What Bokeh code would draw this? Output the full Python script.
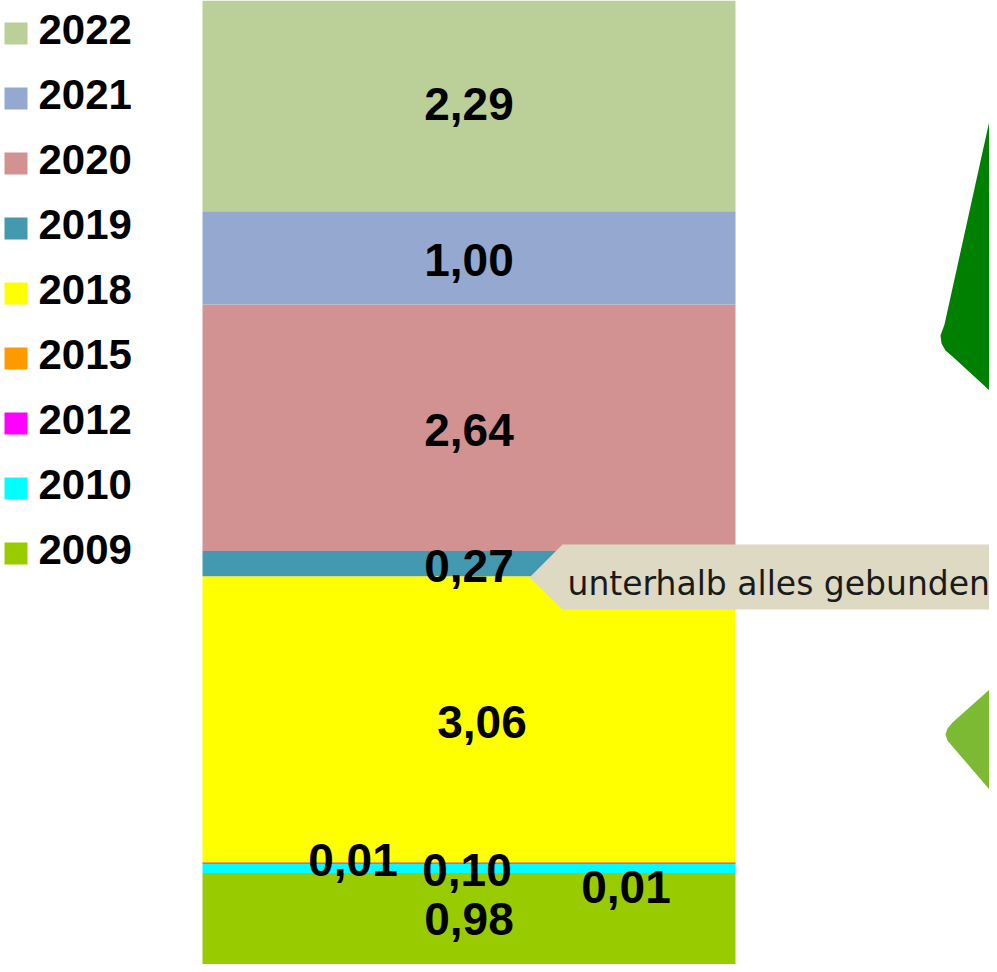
from bokeh.plotting import figure
from bokeh.models import Range1d, ColumnDataSource
from bokeh.core.properties import value
from bokeh.embed import file_html
from bokeh.resources import INLINE

# ---- data (stacked from bottom to top) ----
years = ["2009", "2010", "2012", "2015", "2018", "2019", "2020", "2021", "2022"]
values = [0.98, 0.10, 0.01, 0.01, 3.06, 0.27, 2.64, 1.00, 2.29]
labels = ["0,98", "0,10", "0,01", "0,01", "3,06", "0,27", "2,64", "1,00", "2,29"]
colors = ["#99CC00", "#00FFFF", "#FF00FF", "#FF9900", "#FFFF00",
          "#4399AF", "#D29292", "#95A9D0", "#BBD098"]
callout_text = "unterhalb alles gebunden"

# ---- layout (page pixels) ----
W, H = 989, 964
PAGE_TOP, PAGE_BOTTOM = 8, 972
BAR_TOP_PX = 5
total = sum(values)
ymax = total * (PAGE_BOTTOM - PAGE_TOP) / (PAGE_BOTTOM - BAR_TOP_PX)

p = figure(width=W, height=H, output_backend="svg", toolbar_location=None,
           x_range=Range1d(8, 8 + W), y_range=Range1d(0, ymax),
           min_border=0, outline_line_color=None, background_fill_color="white",
           border_fill_color="white")
p.xaxis.visible = False
p.yaxis.visible = False
p.grid.visible = False
p.extra_y_ranges = {"px": Range1d(PAGE_BOTTOM, PAGE_TOP)}

# ---- stacked bar ----
bottoms, tops = [], []
acc = 0.0
for v in values:
    bottoms.append(acc)
    acc += v
    tops.append(acc)
mids = [(b + t) / 2 for b, t in zip(bottoms, tops)]

bar_src = ColumnDataSource(dict(bottom=bottoms, top=tops, color=colors))
p.vbar(x=476.5, width=533, bottom="bottom", top="top", fill_color="color",
       line_color=None, source=bar_src)

# value labels: nudges are pure styling offsets (px)
dx = [0, -2, -116, 157, 13, 0, 0, 0, 0]
dy = [0, 2, -3, 25, 3, 2, 2, 2, 0]
lab_src = ColumnDataSource(dict(x=[476.5] * len(labels), y=mids, text=labels,
                                dx=dx, dy=dy))
p.text(x="x", y="y", text="text", x_offset="dx", y_offset="dy", source=lab_src,
       text_font=value("Liberation Sans"), text_font_style="bold",
       text_font_size="46px", text_align="center", text_baseline="alphabetic",
       text_color="black")

# ---- legend (top = last year) ----
leg_years = years[::-1]
leg_colors = colors[::-1]
leg_y = [41 + 65 * i for i in range(len(leg_years))]
p.rect(x=[23.5] * len(leg_years), y=leg_y, width=23, height=22,
       fill_color=leg_colors, line_color=None, y_range_name="px")
p.text(x=[46] * len(leg_years), y=[yy - 4 for yy in leg_y], text=leg_years,
       text_font=value("Liberation Sans"), text_font_style="bold",
       text_font_size="42px", text_align="left", text_baseline="alphabetic",
       text_color="black", y_range_name="px")

# ---- callout ----
p.patch(x=[537, 570, 1000, 1000, 570], y=[585, 552, 552, 617, 617],
        fill_color="#DDD9C3", line_color=None, y_range_name="px")
p.text(x=[575], y=[591], text=[callout_text], text_font=value("DejaVu Sans"),
       text_font_size="33px", text_align="left", text_baseline="alphabetic",
       text_color="#1A1A1A", y_range_name="px")

# ---- decorative arrow shapes ----
p.patch(x=[1000, 997, 952, 948, 949, 953, 960, 997, 1000],
        y=[100, 128, 332, 343, 351, 358, 364, 398, 400],
        fill_color="#008000", line_color=None, y_range_name="px")
p.patch(x=[1000, 997, 960, 955, 953, 955, 960, 997, 1000],
        y=[690, 697, 730, 736, 742, 748, 754, 797, 800],
        fill_color="#7DBA33", line_color=None, y_range_name="px")

open("out.html", "w").write(file_html(p, INLINE))
